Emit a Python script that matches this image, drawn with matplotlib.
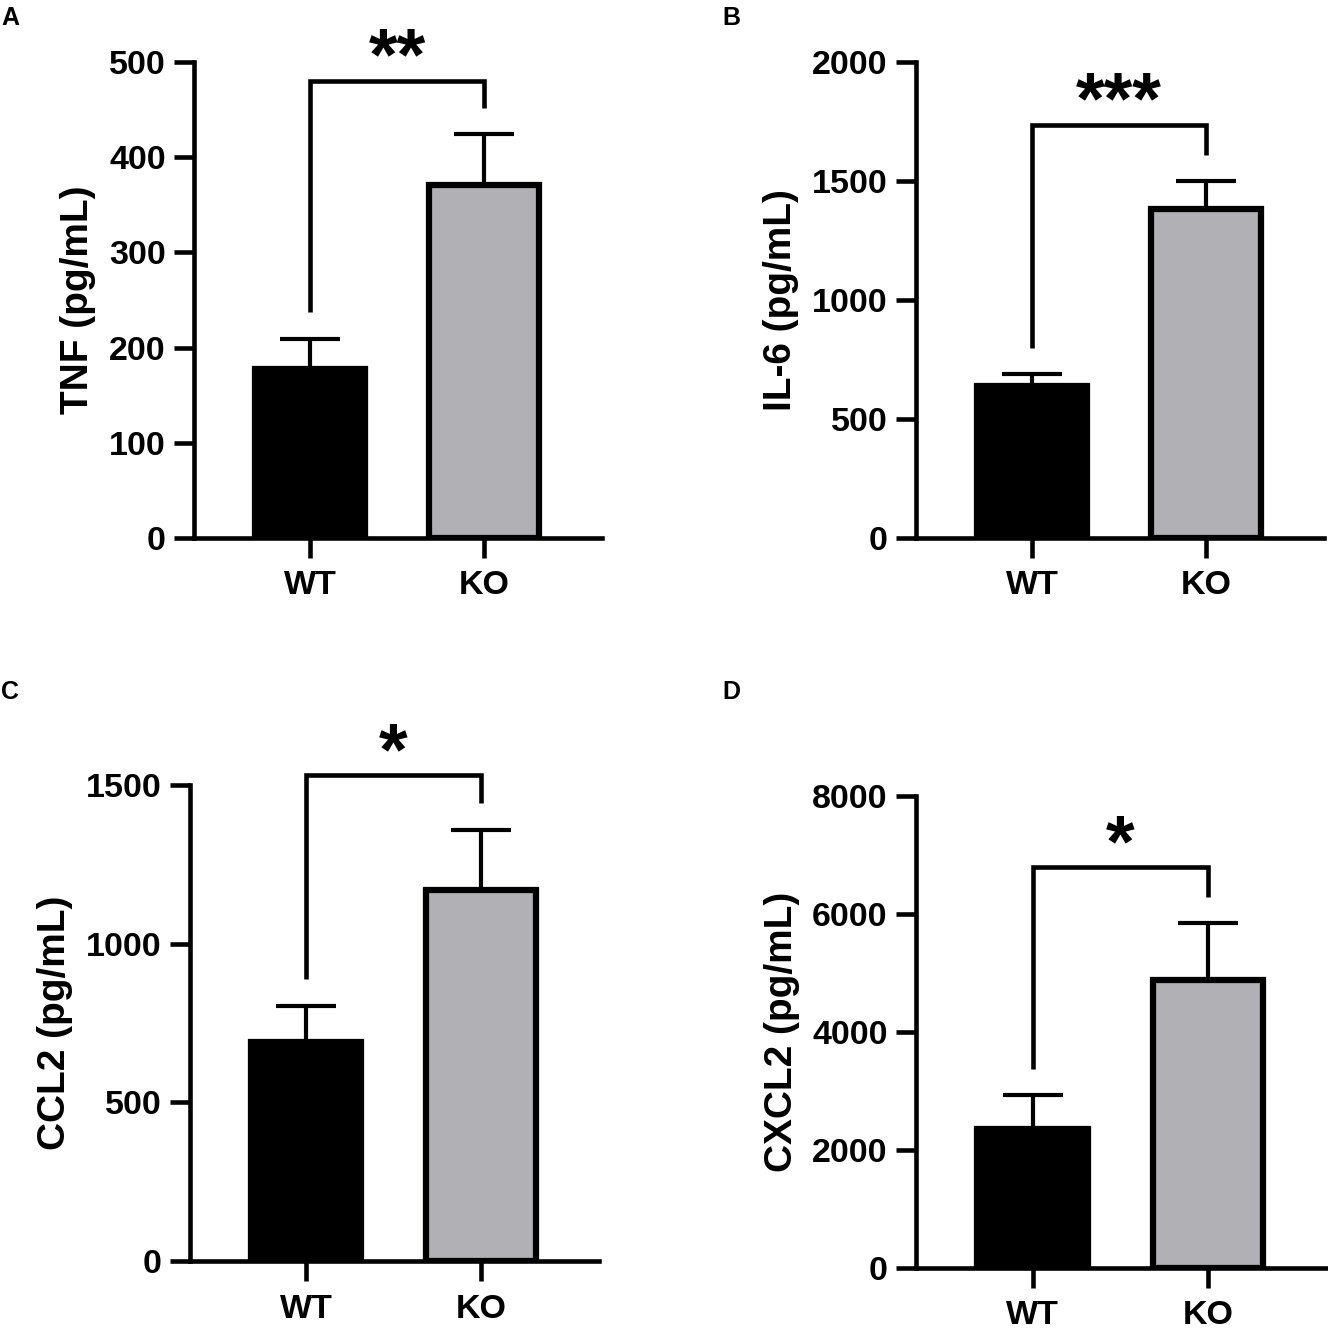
import matplotlib
matplotlib.use("Agg")
import matplotlib.pyplot as plt
from matplotlib.transforms import offset_copy

plt.rcParams['font.family'] = ['Liberation Sans', 'DejaVu Sans']
plt.rcParams['font.weight'] = 'bold'

groups = ["WT", "KO"]
bar_colors = ["#000000", "#b1b0b5"]

panel_letters = ["A", "B", "C", "D"]
ylabels = ["TNF (pg/mL)", "IL-6 (pg/mL)", "CCL2 (pg/mL)", "CXCL2 (pg/mL)"]
ymax = [500, 2000, 1500, 8000]
yticks = [[0, 100, 200, 300, 400, 500],
          [0, 500, 1000, 1500, 2000],
          [0, 500, 1000, 1500],
          [0, 2000, 4000, 6000, 8000]]

tnf_mean = [178, 371]
tnf_err = [31, 53]
il6_mean = [639, 1383]
il6_err = [50, 115]
ccl2_mean = [690, 1168]
ccl2_err = [113, 190]
cxcl2_mean = [2350, 4880]
cxcl2_err = [585, 960]

sig_labels = ["**", "***", "*", "*"]
bracket_top = [480, 1734, 1530, 6795]
bracket_wt_end = [237, 797, 890, 3376]
bracket_ko_end = [452, 1610, 1442, 6291]
star_y = [517, 1883, 1642, 7390]

means = [tnf_mean, il6_mean, ccl2_mean, cxcl2_mean]
errs = [tnf_err, il6_err, ccl2_err, cxcl2_err]

W, H = 1328, 1333
fig = plt.figure(figsize=(W / 100, H / 100), dpi=100)

# axes boxes in pixels: left, right, top, bottom
boxes = [(194, 602, 62, 538), (916, 1324, 62, 538),
         (190, 599, 785, 1261), (916, 1326, 796, 1268)]
letter_pos = [(1, 25), (722, 25), (1, 699), (722, 699)]

lw_axis = 3.3
for i in range(4):
    l, r, t, b = boxes[i]
    ax = fig.add_axes([l / W, 1 - b / H, (r - l) / W, (b - t) / H])
    x = [0, 1]
    ax.bar(x, means[i], width=0.63, color=bar_colors, edgecolor="black",
           linewidth=4.5, zorder=3)
    for j in range(2):
        eb = ax.errorbar(x[j], means[i][j], yerr=[[0], [errs[i][j]]],
                         fmt="none", ecolor="black", elinewidth=3.0,
                         capsize=21.5, capthick=3.0, zorder=2)
        caps = eb[1]
        if len(caps) == 2:
            caps[0].set_visible(False)
    # significance bracket
    ax.plot([0, 0, 1, 1],
            [bracket_wt_end[i], bracket_top[i], bracket_top[i], bracket_ko_end[i]],
            color="black", linewidth=3.3, clip_on=False,
            solid_joinstyle="miter", solid_capstyle="butt", zorder=4)
    star_tr = offset_copy(ax.transData, fig=fig, x=0, y=-10.4, units="points")
    ax.text(0.5, star_y[i], sig_labels[i], ha="center", va="center",
            fontsize=53, fontweight="bold", clip_on=False, transform=star_tr)

    ax.set_xlim(-0.665, 1.675)
    ax.set_ylim(0, ymax[i])
    ax.set_yticks(yticks[i])
    ax.set_yticklabels([str(v) for v in yticks[i]])
    ax.set_xticks(x)
    ax.set_xticklabels(groups)
    for s in ["top", "right"]:
        ax.spines[s].set_visible(False)
    for s in ["left", "bottom"]:
        ax.spines[s].set_linewidth(lw_axis)
    ax.tick_params(axis="both", which="major", length=14.4, width=lw_axis,
                   direction="out", labelsize=24.5)
    ax.tick_params(axis="y", pad=6)
    ax.tick_params(axis="x", pad=9)
    for lab in ax.get_xticklabels() + ax.get_yticklabels():
        lab.set_fontweight("bold")
    ax.set_ylabel(ylabels[i], fontsize=28, fontweight="bold", labelpad=9)

    lx, ly = letter_pos[i]
    fig.text(lx / W, 1 - ly / H, panel_letters[i], ha="left", va="baseline",
             fontsize=18, fontweight="bold")

fig.savefig("out.png", dpi=100)
